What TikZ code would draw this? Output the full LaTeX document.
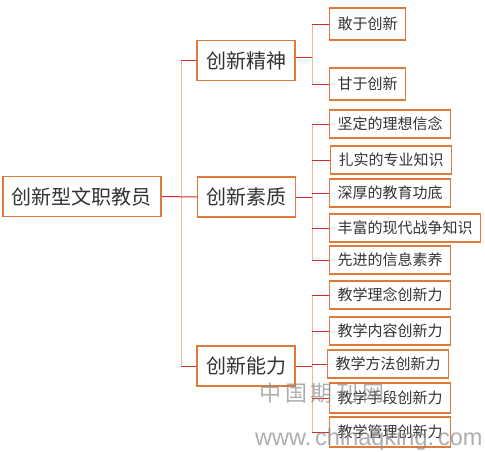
\documentclass[tikz,border=0pt]{standalone}
\usepackage{fontspec}
\setmainfont{Noto Sans CJK SC}
\newfontfamily\markfont{Liberation Sans}
\usetikzlibrary{positioning}
\definecolor{boxorange}{HTML}{E07A3A}
\definecolor{trunkpeach}{HTML}{EDB89A}
\definecolor{stubred}{HTML}{D22C2C}
\definecolor{textgray}{HTML}{333333}
\definecolor{markgray}{HTML}{8C8C8C}

\begin{document}
\begin{tikzpicture}[x=1pt, y=-1pt,
  box/.style={draw=boxorange, line width=1.1pt, fill=white, text=textgray, inner ysep=0pt},
  big/.style={box, font=\fontsize{20pt}{24pt}\selectfont, minimum height=40pt, inner xsep=9pt},
  leaf/.style={box, anchor=west, font=\fontsize{15pt}{18pt}\selectfont, minimum height=28pt, inner xsep=8pt},
  trunk/.style={draw=trunkpeach, line width=1pt},
  stub/.style={draw=stubred, line width=1pt},
  wmark/.style={text=markgray, opacity=0.7}]
  \useasboundingbox (0,0) rectangle (485,451);

  % root and the three branches
  \node[big] (root) at (82,196.5) {创新型文职教员};
  \node[big] (jingshen) at (246,60.5) {创新精神};
  \node[big] (suzhi) at (246.5,197) {创新素质};
  \node[big] (nengli) at (246,366) {创新能力};
  \coordinate (fork0) at (181,197);

  \draw[trunk] (fork0 |- jingshen.west) -- (fork0 |- nengli.west);
  \draw[stub] (root.east) -- (suzhi.west);
  \draw[stub] (jingshen.west) -- (fork0 |- jingshen.west);
  \draw[stub] (nengli.west) -- (fork0 |- nengli.west);

  % 创新精神
  \node[leaf, minimum height=32pt] (ganyu) at (329,24) {敢于创新};
  \node[leaf, minimum height=32pt] (ganyu2) at (329,84) {甘于创新};
  \coordinate (fork1) at (312,57);
  \draw[trunk] (fork1 |- ganyu.west) -- (fork1 |- ganyu2.west);
  \draw[stub] (jingshen.east |- fork1) -- (fork1);
  \foreach \n in {ganyu, ganyu2}
    \draw[stub] (\n.west) -- (fork1 |- \n.west);

  % 创新素质
  \node[leaf] (jianding) at (329,124) {坚定的理想信念};
  \node[leaf] (zhashi) at (330,160) {扎实的专业知识};
  \node[leaf] (shenhou) at (329,193) {深厚的教育功底};
  \node[leaf] (fengfu) at (329,228) {丰富的现代战争知识};
  \node[leaf] (xianjin) at (329,260) {先进的信息素养};
  \coordinate (fork2) at (312,197);
  \draw[trunk] (fork2 |- jianding.west) -- (fork2 |- xianjin.west);
  \draw[stub] (suzhi.east) -- (fork2);
  \foreach \n in {jianding, zhashi, shenhou, fengfu, xianjin}
    \draw[stub] (\n.west) -- (fork2 |- \n.west);

  % 创新能力
  \node[leaf] (linian) at (329,295) {教学理念创新力};
  \node[leaf] (neirong) at (329,331) {教学内容创新力};
  \node[leaf] (fangfa) at (327,364) {教学方法创新力};
  \node[leaf, minimum height=30pt] (shouduan) at (329,398) {教学手段创新力};
  \node[leaf, minimum height=30pt] (guanli) at (329,432) {教学管理创新力};
  \coordinate (fork3) at (312,366);
  \draw[trunk] (fork3 |- linian.west) -- (fork3 |- guanli.west);
  \draw[stub] (nengli.east) -- (fork3);
  \foreach \n in {linian, neirong, fangfa, shouduan, guanli}
    \draw[stub] (\n.west) -- (fork3 |- \n.west);

  % watermark
  \node[wmark, anchor=west, font=\fontsize{22pt}{24pt}\selectfont] (wm1) at (256,393) {中\,国\,期\,刊\,网};
  \node[wmark, anchor=west, font=\markfont\fontsize{23.5pt}{26pt}\selectfont, inner xsep=0pt] (wm2) at (255,439) {www.\,chinaqking.\,com};
\end{tikzpicture}
\end{document}
